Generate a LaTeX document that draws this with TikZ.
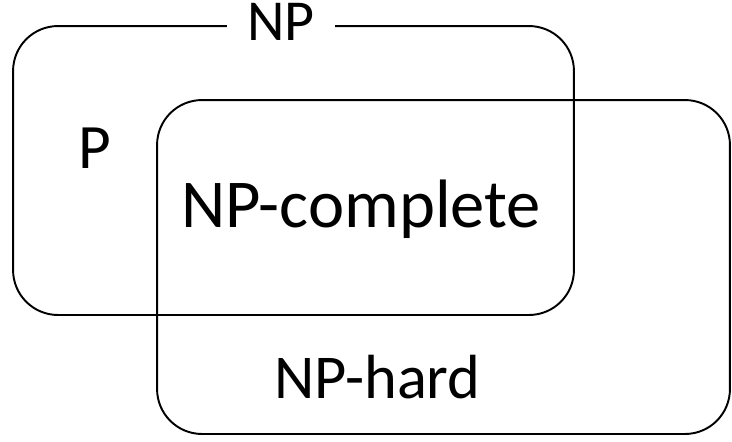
\documentclass[tikz,border=0pt]{standalone}
\usepackage{fontspec}
\setmainfont{Carlito}

\begin{document}
\begin{tikzpicture}[x=0.02cm, y=-0.02cm, line width=1.1pt]
            \tikzstyle{set box}=[draw=black, rounded corners=0.9cm, inner sep=0pt]
            \tikzstyle{set name}=[anchor=base, inner sep=0pt]

            \useasboundingbox (0,0) rectangle (732,441);

            % The two overlapping classes
            \node[set box, minimum width=11.22cm, minimum height=5.78cm] (NP) at (293.5,170.5) {};
            \node[set box, minimum width=11.46cm, minimum height=6.68cm] (NPH) at (443.5,267) {};

            % Class names, the top one cuts through the border
            \node[set name, font=\fontsize{33}{36}\selectfont, fill=white, inner xsep=0.4cm] (np-label) at (281,40) {NP};
            \node[set name, font=\fontsize{36}{40}\selectfont] (p-label) at (95,168) {P};
            \node[set name, font=\fontsize{39}{42}\selectfont] (npc-label) at (361,227) {NP-complete};
            \node[set name, font=\fontsize{35.5}{40}\selectfont] (nph-label) at (377.5,398) {NP-hard};
        \end{tikzpicture}
\end{document}
